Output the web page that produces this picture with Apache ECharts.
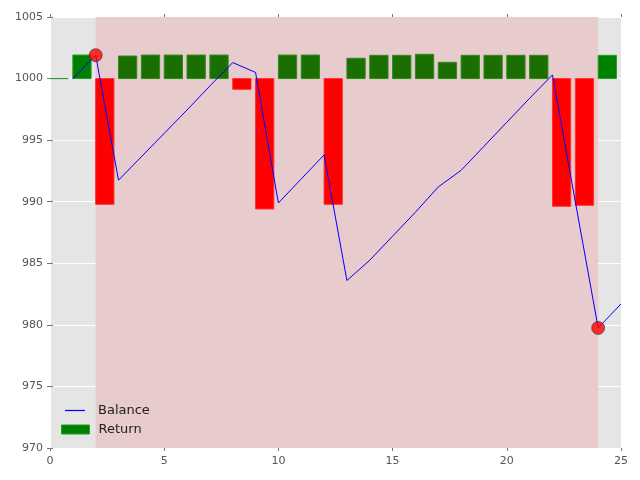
<!DOCTYPE html>
<html>
<head>
<meta charset="utf-8">
<script src="https://cdn.jsdelivr.net/npm/echarts@6/dist/echarts.min.js"></script>
<style>
  html, body { margin: 0; padding: 0; background: #fff; }
  #chart { width: 640px; height: 480px; }
</style>
</head>
<body>
<div id="chart"></div>
<script>
// returns per step, bar drawn from x to x + 0.8
const returnX = [0, 1, 2, 3, 4, 5, 6, 7, 8, 9, 10, 11, 12, 13, 14, 15, 16, 17, 18, 19, 20, 21, 22, 23, 24];
const returnValues = [0, 1.91, -10.21, 1.83, 1.91, 1.91, 1.91, 1.91, -0.87, -10.59, 1.91, 1.91, -10.21,
  1.65, 1.89, 1.89, 1.97, 1.32, 1.89, 1.89, 1.89, 1.89, -10.37, -10.29, 1.89];

const balanceX = [1, 2, 3, 4, 5, 6, 7, 8, 9, 10, 11, 12, 13, 14, 15, 16, 17, 18, 19, 20, 21, 22, 23, 24, 25];
const balanceValues = [1000, 1001.9, 991.75, 993.65, 995.55, 997.45, 999.4, 1001.3, 1000.5, 989.9,
  991.85, 993.8, 983.6, 985.25, 987.2, 989.15, 991.2, 992.55, 994.5, 996.45, 998.4, 1000.3, 990.0, 979.75, 981.7];

const markerX = [2, 24];
const markerValues = [1001.9, 979.75];

const shadeRange = [2, 24];
const baseLine = 1000;
const barWidth = 0.8;

const chart = echarts.init(document.getElementById('chart'));

const axisLabelStyle = { color: '#555', fontSize: 11, fontFamily: 'DejaVu Sans' };
const tickStyle = { show: true, length: 3, lineStyle: { color: '#777', width: 1 } };

const option = {
  animation: false,
  grid: {
    left: 50, right: 19, top: 17, bottom: 32,
    show: true, backgroundColor: '#e5e5e5', borderWidth: 0
  },
  legend: [
    {
      left: 60, top: 399, orient: 'vertical',
      itemWidth: 20, itemHeight: 1.2,
      textStyle: { fontSize: 13, color: '#222', fontFamily: 'DejaVu Sans', padding: [0, 0, 0, 8] },
      data: [{
        name: 'Balance',
        icon: 'rect',
        itemStyle: { color: '#0000ff', borderWidth: 0 }
      }]
    },
    {
      left: 56, top: 418, orient: 'vertical',
      itemWidth: 28, itemHeight: 9,
      textStyle: { fontSize: 13, color: '#222', fontFamily: 'DejaVu Sans', padding: [0, 0, 0, 4] },
      data: [{ name: 'Return', icon: 'rect', itemStyle: { color: '#008000', borderColor: '#2a9a2a', borderWidth: 1 } }]
    }
  ],
  xAxis: [
    {
      type: 'value', min: 0, max: 25, interval: 5,
      axisLine: { show: false },
      axisTick: tickStyle,
      axisLabel: Object.assign({ margin: 8 }, axisLabelStyle),
      splitLine: { show: true, lineStyle: { color: '#fff', width: 1 } }
    },
    {
      type: 'value', min: 0, max: 25, interval: 5, position: 'top',
      axisLine: { show: false }, axisTick: tickStyle,
      axisLabel: { show: false }, splitLine: { show: false }
    }
  ],
  yAxis: [
    {
      type: 'value', min: 970, max: 1005, interval: 5,
      axisLine: { show: false },
      axisTick: tickStyle,
      axisLabel: Object.assign({ margin: 7, formatter: v => String(v) }, axisLabelStyle),
      splitLine: { show: true, lineStyle: { color: '#fff', width: 1 } }
    },
    {
      type: 'value', min: 970, max: 1005, interval: 5, position: 'right',
      axisLine: { show: false }, axisTick: tickStyle,
      axisLabel: { show: false }, splitLine: { show: false }
    }
  ],
  series: [
    {
      name: 'Return',
      type: 'custom',
      z: 2,
      itemStyle: { color: '#008000' },
      data: returnX.map((x, i) => [x, returnValues[i]]),
      renderItem: function (params, api) {
        const x = api.value(0);
        const r = api.value(1);
        const p0 = api.coord([x, baseLine]);
        const p1 = api.coord([x + barWidth, baseLine + r]);
        const inShade = x >= shadeRange[0] && x < shadeRange[1];
        let fill, stroke;
        if (r < 0) {
          fill = '#ff0000';
          stroke = '#ff3030';
        } else {
          fill = inShade ? '#1b6f00' : '#008000';
          stroke = inShade ? '#2e8a20' : '#2a9a2a';
        }
        return {
          type: 'rect',
          shape: {
            x: p0[0], y: Math.min(p0[1], p1[1]),
            width: p1[0] - p0[0], height: Math.abs(p1[1] - p0[1])
          },
          style: { fill: fill, stroke: stroke, lineWidth: 1 }
        };
      },
      markArea: {
        silent: true,
        z: 0,
        itemStyle: { color: '#e8cbcc' },
        data: [[{ xAxis: shadeRange[0] }, { xAxis: shadeRange[1] }]]
      }
    },
    {
      name: 'Balance',
      type: 'line',
      z: 3,
      data: balanceX.map((x, i) => [x, balanceValues[i]]),
      showSymbol: false,
      symbol: 'none',
      lineStyle: { color: '#0000ff', width: 1 },
      itemStyle: { color: '#0000ff' }
    },
    {
      name: 'Markers',
      type: 'scatter',
      z: 4,
      data: markerX.map((x, i) => [x, markerValues[i]]),
      symbolSize: 13,
      itemStyle: { color: '#ff0000', borderColor: '#333', borderWidth: 0.8 }
    }
  ]
};

chart.setOption(option);
</script>
</body>
</html>
